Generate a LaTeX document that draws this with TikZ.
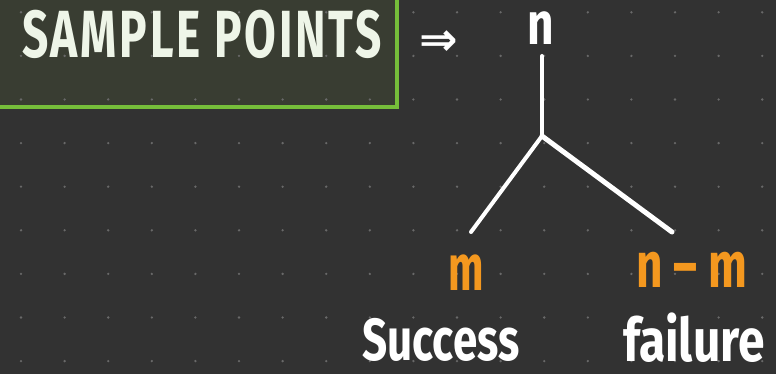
\documentclass[tikz,border=0pt]{standalone}
\usepackage{fontspec}
\usepackage{graphicx}
\setmainfont{Fira Sans}
\newfontfamily\symfont{DejaVu Sans}
\usetikzlibrary{arrows.meta, positioning}
\definecolor{boardbg}{RGB}{50,50,50}
\definecolor{boxfill}{RGB}{57,61,50}
\definecolor{boxgreen}{RGB}{118,190,58}
\definecolor{chalk}{RGB}{238,245,232}
\definecolor{markorange}{RGB}{244,152,31}
\definecolor{gridgray}{RGB}{105,105,105}
\newcommand{\tallify}[2]{\scalebox{1}[#1]{#2}}
\tikzset{
  handtext/.style={inner sep=0pt, text=chalk},
  counttext/.style={inner sep=0pt, text=markorange},
  branch/.style={draw=white, line width=4pt, line cap=round}
}

\begin{document}
\begin{tikzpicture}[x=1pt, y=-1pt]
        \useasboundingbox (0,0) rectangle (776,374);
        \fill[boardbg] (0,0) rectangle (776,374);
        % Title box
        \fill[boxfill] (0,0) rectangle (397,107);
        \draw[boxgreen, line width=4pt] (397,-3) -- (397,107.5) -- (-3,107.5);
        % Dot grid
        \foreach \i in {0,...,17} {
          \foreach \j in {0,...,8} {
            \fill[gridgray] (21+43.6*\i, 12.3+43.6*\j) circle (1.3);
          }
        }
        \node[handtext, font=\fontsize{46}{46}\selectfont\bfseries\addfontfeatures{LetterSpace=6}] (title) at (202,34) {\tallify{1.45}{SAMPLE POINTS}};
        \node[handtext, text=white, font=\fontsize{46}{46}\selectfont\symfont\bfseries] (implies) at (439,43) {⇒};
        % Tree
        \node[handtext, text=white, font=\fontsize{46}{46}\selectfont\bfseries] (total) at (541,28) {\tallify{1.3}{n}};
        \coordinate (stem) at (542,56);
        \coordinate (fork) at (542,136);
        \coordinate (leftend) at (471,232);
        \coordinate (rightend) at (672,232);
        \draw[branch] (stem) -- (fork);
        \draw[branch] (fork) -- (leftend);
        \draw[branch, line width=5pt] (fork) -- (rightend);
        % Outcomes
        \node[counttext, font=\fontsize{42}{42}\selectfont\bfseries] (succcount) at (466,273) {\tallify{1.55}{m}};
        \node[counttext, font=\fontsize{46}{46}\selectfont\bfseries] (failcount) at (692,270) {\tallify{1.4}{n – m}};
        \node[handtext, text=white, font=\fontsize{44}{44}\selectfont\bfseries] (success) at (441,340) {\tallify{1.35}{Success}};
        \node[handtext, text=white, font=\fontsize{48}{48}\selectfont\bfseries] (failure) at (694,338) {\tallify{1.25}{failure}};
\end{tikzpicture}
\end{document}
